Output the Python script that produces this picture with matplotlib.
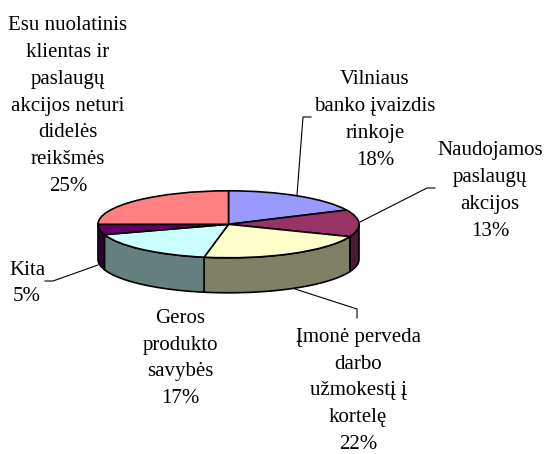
import matplotlib
matplotlib.use("Agg")
import matplotlib.pyplot as plt
import numpy as np

plt.rcParams["font.family"] = "Liberation Serif"
plt.rcParams["font.size"] = 15

labels = ["Vilniaus\nbanko įvaizdis\nrinkoje", "Naudojamos\npaslaugų\nakcijos",
          "Įmonė perveda\ndarbo\nužmokestį į\nkortelę", "Geros\nprodukto\nsavybės",
          "Kita", "Esu nuolatinis\nklientas ir\npaslaugų\nakcijos neturi\ndidelės\nreikšmės"]
values = [18, 13, 22, 17, 5, 25]
top_colors = ["#9999FF", "#993366", "#FFFFCC", "#CCFFFF", "#660066", "#FF8080"]
side_colors = ["#4D4D80", "#4D1A33", "#808066", "#668080", "#330033", "#804040"]

W, H = 544, 454
cx, cy = 228.5, 224.3
rx, ry = 130.5, 33.5
depth = 35 / ry

fig = plt.figure(figsize=(W / 100, H / 100), dpi=100)
ax = fig.add_axes([0, 0, 1, 1])

# pie is a unit circle in data space, the axis limits squash it to an ellipse
angles = 90 - np.cumsum([0] + values) * 3.6
for i in range(len(values)):
    # only the front half of the rim shows
    a = min(angles[i], 0)
    b = max(angles[i + 1], -180)
    if a <= b:
        continue
    t = np.radians(np.linspace(a, b, 60))
    xs = np.r_[np.cos(t), np.cos(t)[::-1]]
    ys = np.r_[np.sin(t), np.sin(t)[::-1] - depth]
    ax.fill(xs, ys, fc=side_colors[i], ec="k", lw=1.2, zorder=1, joinstyle="round")

ax.pie(values, colors=top_colors, startangle=90, counterclock=False, radius=1,
       wedgeprops=dict(edgecolor="k", linewidth=1.2, zorder=2))
ax.set_aspect("auto")
ax.set_xlim(-cx / rx, (W - cx) / rx)
ax.set_ylim(-(H - cy) / ry, cy / ry)
ax.axis("off")


def px(x, y):
    return x / W, 1 - y / H


# label centres and leader lines in picture pixels
label_pos = [(375, 120), (490, 191), (358, 391), (180, 358.5), (27, 283.5), (68, 106)]
leaders = [
    [(297, 195), (303, 117), (311, 117)],
    [(360, 222), (427, 188), (435, 188)],
    [(295, 289), (357, 309), (357, 318)],
    None,
    [(98, 265), (53, 281), (45, 281)],
    None,
]

for lab, val, pos, line in zip(labels, values, label_pos, leaders):
    x, y = px(*pos)
    fig.text(x, y, f"{lab}\n{val}%", ha="center", va="center", linespacing=1.56, color="k")
    if line:
        fig.add_artist(plt.Line2D([px(*p)[0] for p in line], [px(*p)[1] for p in line],
                                  color="k", lw=0.8, transform=fig.transFigure))

fig.savefig("out.png", dpi=100, facecolor="white")
